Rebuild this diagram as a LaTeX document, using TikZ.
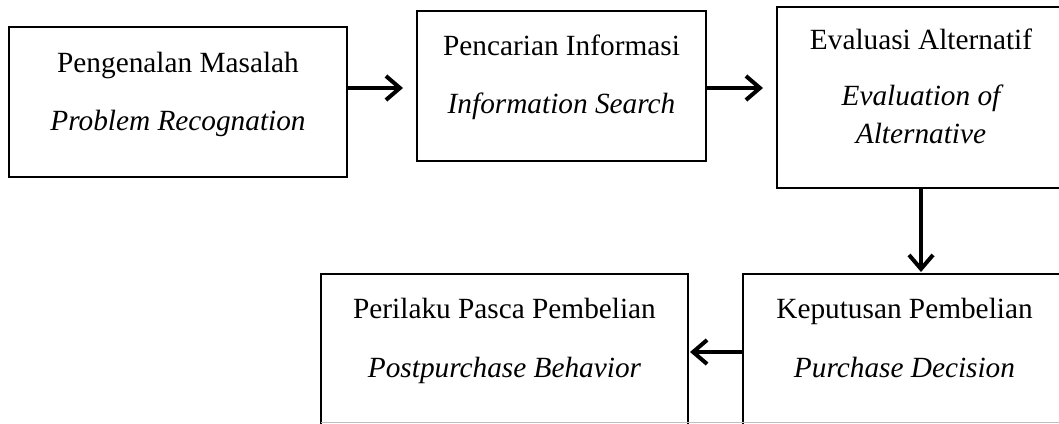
\documentclass[tikz,border=0pt]{standalone}
\usepackage{fontspec}
\setmainfont{Liberation Serif}
\usetikzlibrary{arrows.meta}
\begin{document}
\begin{tikzpicture}[x=1pt,y=-1pt,
  box/.style={draw=black,line width=2.7pt,inner sep=0pt,outer sep=0pt,rectangle},
  txt/.style={anchor=base,inner sep=0pt,font=\fontsize{29.3}{34}\selectfont},
  itx/.style={txt,font=\fontsize{29.3}{34}\selectfont\itshape},
  arr/.style={line width=4pt,-{Straight Barb[length=14pt,width=24pt]}}]
\useasboundingbox (0,0) rectangle (1059,423);
\clip (0,0) rectangle (1059,423);
\fill[white] (0,0) rectangle (1059,423);
\node[box,minimum width=338pt,minimum height=150pt] (b1) at (178,102) {};
\node[box,minimum width=289pt,minimum height=150pt] (b2) at (561.5,86) {};
\node[box,minimum width=288pt,minimum height=181pt] (b3) at (921,97.5) {};
\node[box,minimum width=323pt,minimum height=186pt] (b4) at (904.5,367) {};
\node[box,minimum width=367pt,minimum height=186pt] (b5) at (504.5,367) {};
\node[txt] (t1a) at (178,72) {Pengenalan Masalah};
\node[itx] (t1b) at (178,130) {Problem Recognation};
\node[txt] (t2a) at (561.5,55) {Pencarian Informasi};
\node[itx] (t2b) at (561.5,113) {Information Search};
\node[txt] (t3a) at (921,49) {Evaluasi Alternatif};
\node[itx] (t3b) at (921,105) {Evaluation of};
\node[itx] (t3c) at (921,143) {Alternative};
\node[txt] (t4a) at (904.5,318) {Keputusan Pembelian};
\node[itx] (t4b) at (904.5,377) {Purchase Decision};
\node[txt] (t5a) at (504.5,318) {Perilaku Pasca Pembelian};
\node[itx] (t5b) at (504.5,377) {Postpurchase Behavior};
\draw[arr,shorten >=14pt] ([yshift=14pt]b1.east) -- ([yshift=14pt]b1.east -| b2.west);
\draw[arr,shorten >=14pt] ([yshift=14pt]b1.east -| b2.east) -- ([yshift=14pt]b1.east -| b3.west);
\draw[arr,shorten >=2pt] (b3.south) -- (b3.south |- b4.north);
\draw[arr,shorten >=2pt] ([yshift=15pt]b4.west) -- ([yshift=15pt]b4.west -| b5.east);
\draw[black!25,line width=0.8pt] (b5.west |- 0,422) -- (1059,422);
\end{tikzpicture}
\end{document}
